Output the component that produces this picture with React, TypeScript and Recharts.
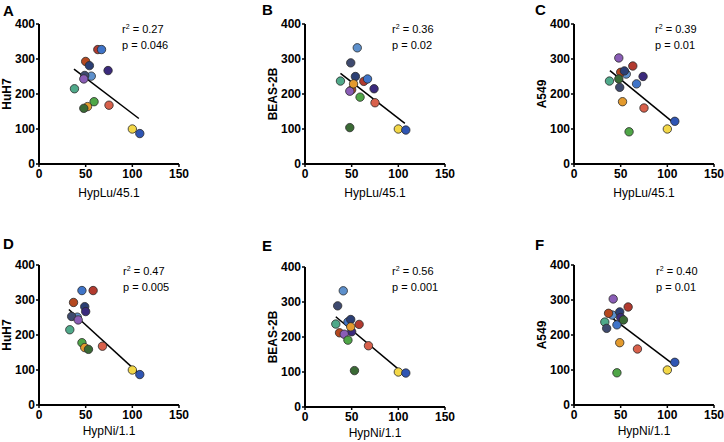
import React from "react";
import { ScatterChart, Scatter, XAxis, YAxis, ReferenceLine } from "recharts";

// one entry per sample, same order in every array
const sampleColors = [
  "#f3d747", // yellow
  "#2f55b3", // royal blue
  "#4fa98a", // teal
  "#d8604b", // coral
  "#b23a2f", // dark red
  "#3f74c8", // blue
  "#5d90cc", // steel blue
  "#b5481f", // rust
  "#2b3f74", // navy
  "#3b2a7c", // indigo
  "#3e4a6f", // slate
  "#8a5db6", // purple
  "#4fa647", // green
  "#e39a2d", // orange
  "#3a6a35", // dark green
];

const hypLu = [100, 108, 38, 75, 63, 67, 56, 50, 54, 74, 49, 48, 59, 52, 48];
const hypNi = [100, 108, 33, 68, 58, 46, 41, 37, 49, 50, 35, 42, 46, 49, 53];
const huh7 = [100, 87, 215, 168, 327, 327, 251, 293, 281, 267, 253, 243, 178, 164, 159];
const beas2b = [100, 97, 237, 175, 236, 243, 332, 212, 250, 215, 289, 208, 191, 229, 104];
const a549 = [100, 122, 237, 160, 280, 229, 257, 262, 266, 250, 219, 303, 92, 178, 243];

const xTicks = [0, 50, 100, 150];
const yTicks = [0, 100, 200, 300, 400];

// regression line end points
const fitA = [{ x: 37.5, y: 271 }, { x: 107, y: 130 }];
const fitB = [{ x: 38, y: 259 }, { x: 107, y: 116 }];
const fitC = [{ x: 38.5, y: 267 }, { x: 106.5, y: 118 }];
const fitD = [{ x: 32, y: 273 }, { x: 106.5, y: 91 }];
const fitE = [{ x: 33, y: 258 }, { x: 105.5, y: 96 }];
const fitF = [{ x: 36, y: 258 }, { x: 106.5, y: 116 }];

const FONT = '"Liberation Sans", Arial, Helvetica, sans-serif';

type PanelProps = {
  letter: string;
  letterPos: [number, number];
  xLabel: string;
  yLabel: string;
  xs: number[];
  ys: number[];
  fit: { x: number; y: number }[];
  r2: string;
  p: string;
  statsPos: [number, number];
  plotLeft: number;
  plotTop: number;
  xLabelGap: number;
};

function Dot(props: any) {
  const { cx, cy, payload } = props;
  if (cx == null || cy == null) return <g />;
  return <circle cx={cx} cy={cy} r={4.2} fill={payload.color} stroke="#2a2a2a" strokeWidth={0.8} />;
}

function Panel(props: PanelProps) {
  const points = props.xs.map((x, i) => ({ x, y: props.ys[i], color: sampleColors[i] }));
  const chartH = 24 + 140 + props.xLabelGap + 6;
  return (
    <>
      <div
        style={{
          position: "absolute",
          left: props.letterPos[0],
          top: props.letterPos[1],
          fontSize: 15,
          fontWeight: "bold",
          lineHeight: "15px",
        }}
      >
        {props.letter}
      </div>
      <div
        style={{
          position: "absolute",
          left: props.statsPos[0],
          top: props.statsPos[1],
          fontSize: 11,
          lineHeight: "15px",
          whiteSpace: "nowrap",
        }}
      >
        <div>
          r<span style={{ fontSize: 7, position: "relative", top: -4 }}>2</span> = {props.r2}
        </div>
        <div>p = {props.p}</div>
      </div>
      <div style={{ position: "absolute", left: props.plotLeft - 39, top: props.plotTop - 24 }}>
        <ScatterChart
          width={200}
          height={chartH}
          margin={{ top: 24, right: 21, bottom: 6, left: 0 }}
          style={{ fontFamily: FONT }}
        >
          <XAxis
            type="number"
            dataKey="x"
            domain={[0, 150]}
            ticks={xTicks}
            height={props.xLabelGap}
            axisLine={{ stroke: "#000", strokeWidth: 2 }}
            tickLine={{ stroke: "#000", strokeWidth: 1.5 }}
            tickSize={3}
            tick={{ fill: "#000", fontSize: 12, fontWeight: "bold" }}
            label={{ value: props.xLabel, position: "insideBottom", offset: 0, fill: "#000", fontSize: 12 }}
          />
          <YAxis
            type="number"
            dataKey="y"
            domain={[0, 400]}
            ticks={yTicks}
            width={39}
            axisLine={{ stroke: "#000", strokeWidth: 2 }}
            tickLine={{ stroke: "#000", strokeWidth: 1.5 }}
            tickSize={3}
            tickMargin={1}
            tick={{ fill: "#000", fontSize: 12, fontWeight: "bold" }}
            label={{
              value: props.yLabel,
              angle: -90,
              position: "insideLeft",
              offset: 7,
              fill: "#000",
              fontSize: 12,
              fontWeight: "bold",
              style: { textAnchor: "middle" },
            }}
          />
          <Scatter data={points} shape={Dot} isAnimationActive={false} />
          <ReferenceLine segment={props.fit} stroke="#000" strokeWidth={1.5} />
        </ScatterChart>
      </div>
    </>
  );
}

export default function App() {
  return (
    <div
      style={{
        position: "absolute",
        left: 0,
        top: 0,
        width: 724,
        height: 442,
        background: "#fff",
        fontFamily: FONT,
        color: "#000",
        overflow: "hidden",
      }}
    >
      <Panel letter="A" letterPos={[3, 3]} xLabel="HypLu/45.1" yLabel="HuH7" xs={hypLu} ys={huh7} fit={fitA}
        r2="0.27" p="0.046" statsPos={[122, 22]} plotLeft={39} plotTop={24} xLabelGap={33} />
      <Panel letter="B" letterPos={[262, 2]} xLabel="HypLu/45.1" yLabel="BEAS-2B" xs={hypLu} ys={beas2b} fit={fitB}
        r2="0.36" p="0.02" statsPos={[392, 22]} plotLeft={305} plotTop={24} xLabelGap={33} />
      <Panel letter="C" letterPos={[535, 2]} xLabel="HypLu/45.1" yLabel="A549" xs={hypLu} ys={a549} fit={fitC}
        r2="0.39" p="0.01" statsPos={[655, 22]} plotLeft={574} plotTop={24} xLabelGap={33} />
      <Panel letter="D" letterPos={[3, 236]} xLabel="HypNi/1.1" yLabel="HuH7" xs={hypNi} ys={huh7} fit={fitD}
        r2="0.47" p="0.005" statsPos={[123, 264]} plotLeft={39} plotTop={265} xLabelGap={30} />
      <Panel letter="E" letterPos={[262, 238]} xLabel="HypNi/1.1" yLabel="BEAS-2B" xs={hypNi} ys={beas2b} fit={fitE}
        r2="0.56" p="0.001" statsPos={[392, 264]} plotLeft={305} plotTop={267} xLabelGap={30} />
      <Panel letter="F" letterPos={[535, 237]} xLabel="HypNi/1.1" yLabel="A549" xs={hypNi} ys={a549} fit={fitF}
        r2="0.40" p="0.01" statsPos={[656, 264]} plotLeft={574} plotTop={265} xLabelGap={30} />
    </div>
  );
}
